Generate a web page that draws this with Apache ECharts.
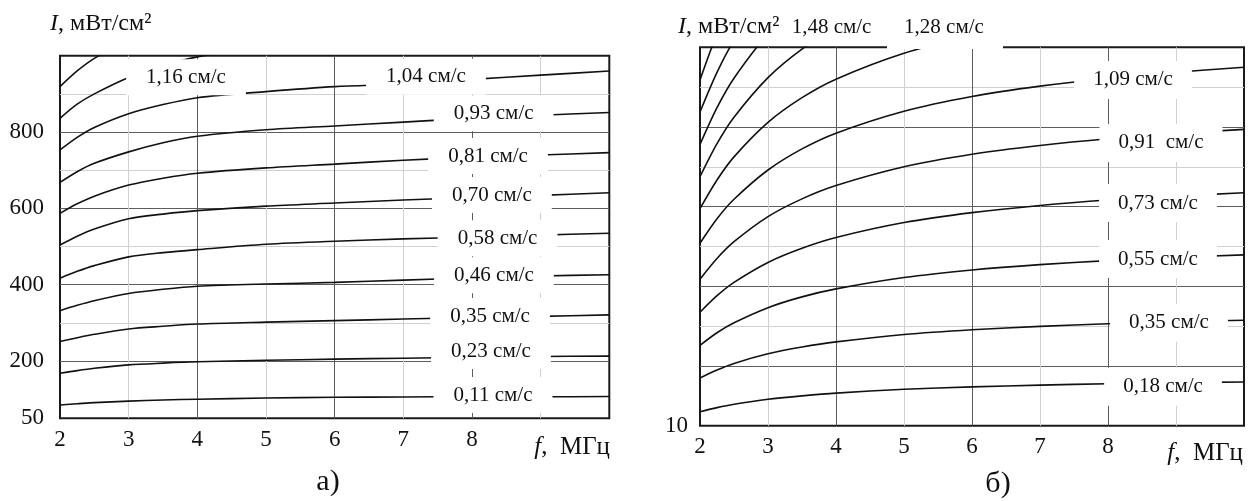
<!DOCTYPE html>
<html><head><meta charset="utf-8">
<script src="https://cdn.jsdelivr.net/npm/echarts@6/dist/echarts.min.js"></script>
<style>html,body{margin:0;padding:0;background:#fff}#c{width:1248px;height:501px}</style>
</head><body><div id="c"></div>
<script>
// ---------- data ----------
const f = [2, 2.25, 2.5, 3, 3.5, 4, 5, 6, 7, 8, 9, 10];

// panel а) : I, мВт/см2
const Ia_011 = [85, 88, 91, 95, 98, 100, 103, 105, 106, 106.5, 106.5, 107];
const Ia_023 = [168, 175, 181, 190, 194.5, 198, 202, 205, 207.5, 210, 212, 213];
const Ia_035 = [251, 261, 270, 284, 291, 297, 302, 306, 310, 314, 317, 321];
const Ia_046 = [332, 346, 358, 377, 388, 396, 402, 406, 412, 418, 423, 426];
const Ia_058 = [417, 435, 450, 473, 484, 492, 506, 514, 520, 525, 530, 535];
const Ia_070 = [504, 527, 546, 573, 585, 594, 606, 614, 622, 628, 634, 641];
const Ia_081 = [587, 612, 632, 661, 679, 692, 706, 716, 726, 734, 740, 746];
const Ia_093 = [668, 696, 718, 748, 772, 789, 806, 816, 826, 836, 844, 851];
const Ia_104 = [753, 786, 812, 848, 872, 890, 906, 919, 926, 938, 949, 960];
const Ia_116 = [836, 873, 900, 943, 974, 997, 1029];
const Ia_127 = [919, 960, 993, 1042];

// panel б)
const Ib_018 = [17, 19.1, 20.8, 23.3, 25, 26.4, 28.3, 29.5, 30.4, 31.1, 31.6, 32];
const Ib_035 = [34, 38, 41.3, 46.1, 49.5, 52.1, 55.8, 58.2, 59.9, 61.2, 62.2, 63];
const Ib_055 = [50.4, 56.7, 61.7, 69.3, 74.7, 78.7, 84.4, 88.2, 90.9, 92.9, 94.5, 95.8];
const Ib_073 = [67, 75.3, 82, 92, 99.1, 104.5, 112, 117, 120.6, 123.3, 125.3, 127];
const Ib_091 = [83.6, 94, 102.4, 115, 123.9, 130.6, 140, 146.3, 150.7, 154.1, 156.7, 158.8];
const Ib_109 = [101.6, 113.9, 123.7, 138.4, 149, 156.9, 167.9, 175.3, 180.5, 184.5, 187.5, 190];
const Ib_128 = [119, 133.4, 145, 162.3, 174.7, 184, 197, 205.7, 211.9];
const Ib_148 = [135, 151.6, 164.9, 184.8, 199.1, 209.8, 224.7];
const Ib_166 = [151.2, 169.7, 184.5, 206.7, 222.6];
const Ib_185 = [167.5, 187.4, 203.4, 227.3];
const Ib_203 = [183.6, 206.8, 225.4];

// curve labels
const labelsA = ['1,16 см/с', '1,04 см/с', '0,93 см/с', '0,81 см/с', '0,70 см/с', '0,58 см/с', '0,46 см/с', '0,35 см/с', '0,23 см/с', '0,11 см/с'];
const labelFA = [3.835, 7.33, 8.316, 8.234, 8.29, 8.372, 8.32, 8.263, 8.277, 8.306];
const labelIA = [943.5, 945, 849, 737, 635, 521.6, 425, 318, 226, 111];

const labelsB = ['1,09 см/с', '0,91  см/с', '0,73 см/с', '0,55 см/с', '0,35 см/с', '0,18 см/с'];
const labelFB = [8.368, 8.779, 8.735, 8.735, 8.897, 8.809];
const labelIB = [183.6, 152, 121.8, 93.7, 61.7, 29.6];

const topLabelsB = ['1,48 см/с', '1,28 см/с'];
const topLabelFB = [3.934, 5.588];
const topLabelIB = [209.7, 209.7];

// ticks / grid
const xTickLabels = [2, 3, 4, 5, 6, 7, 8];
const xMajorGrid = [4, 6, 8];
const xMinorGrid = [3, 5, 7, 9];
const yTickLabelsA = [50, 200, 400, 600, 800];
const yMajorGridA = [200, 400, 600, 800];
const yMinorGridA = [300, 500, 700, 900];
const yTickLabelsB = [10];
const yMajorGridB = [40, 80, 120, 160];
const yMinorGridB = [60, 100, 140, 180];

// ---------- chart ----------
const FONT = '"Liberation Serif", "Times New Roman", serif';
const INK = '#111';
const DARK = '#5c5c5c', LIGHT = '#d0d0d0', NONE = 'rgba(0,0,0,0)';

function gridColors(min, max, step, major, minor) {
  const out = [];
  const n = Math.round((max - min) / step);
  for (let i = 0; i <= n; i++) {
    const v = Math.round((min + i * step) * 1000) / 1000;
    out.push(major.includes(v) ? DARK : (minor.includes(v) ? LIGHT : NONE));
  }
  return out;
}

function xAxisFor(gi) {
  return {
    type: 'value', gridIndex: gi, min: 2, max: 10, interval: 1,
    axisLine: {show: false}, axisTick: {show: false},
    axisLabel: {formatter: v => xTickLabels.includes(v) ? String(v) : '', fontSize: 23, fontFamily: FONT, color: INK, margin: 10},
    splitLine: {show: true, lineStyle: {width: 1, color: gridColors(2, 10, 1, xMajorGrid, xMinorGrid)}}
  };
}

function curve(gi, arr) {
  return {
    type: 'line', xAxisIndex: gi, yAxisIndex: gi,
    data: arr.map((v, i) => [f[i], v]),
    symbol: 'none', showSymbol: false, smooth: 0.3,
    lineStyle: {color: INK, width: 1.6}, clip: true, z: 3, silent: true
  };
}

function labelSeries(gi, texts, xs, ys, withBg, pad) {
  return {
    type: 'scatter', xAxisIndex: gi, yAxisIndex: gi, clip: false, z: 10, silent: true,
    symbolSize: 1, itemStyle: {color: NONE, opacity: 1},
    data: texts.map((t, i) => ({name: t, value: [xs[i], ys[i]]})),
    label: {
      show: true, position: 'inside', formatter: '{b}', opacity: 1,
      fontSize: 21, fontFamily: FONT, color: INK, lineHeight: 20,
      backgroundColor: withBg ? '#fff' : 'transparent', padding: pad
    },
    emphasis: {disabled: true}
  };
}

const seriesA = [Ia_011, Ia_023, Ia_035, Ia_046, Ia_058, Ia_070, Ia_081, Ia_093, Ia_104, Ia_116, Ia_127].map(a => curve(0, a));
const seriesB = [Ib_018, Ib_035, Ib_055, Ib_073, Ib_091, Ib_109, Ib_128, Ib_148, Ib_166, Ib_185, Ib_203].map(a => curve(1, a));

const titleStyle = (x, y) => ({type: 'text', x: x, y: y, style: {text: '{i|I}, мВт/см²', rich: {i: {fontStyle: 'italic', fontSize: 24, fontFamily: FONT, fill: INK}}, fontSize: 24, fontFamily: FONT, fill: INK, align: 'left', verticalAlign: 'middle'}});
const fStyle = (x, y) => ({type: 'text', x: x, y: y, style: {text: '{i|f},  МГц', rich: {i: {fontStyle: 'italic', fontSize: 25, fontFamily: FONT, fill: INK}}, fontSize: 25, fontFamily: FONT, fill: INK, align: 'right', verticalAlign: 'middle'}});

const chart = echarts.init(document.getElementById('c'), null, {renderer: 'canvas'});
chart.setOption({
  animation: false,
  backgroundColor: '#fff',
  grid: [
    {left: 60, top: 55.7, width: 549.3, height: 362.6, show: true, borderColor: '#1a1a1a', borderWidth: 2, backgroundColor: 'transparent', outerBoundsMode: 'none'},
    {left: 700, top: 47.3, width: 544, height: 378.45, show: true, borderColor: '#1a1a1a', borderWidth: 2, backgroundColor: 'transparent', outerBoundsMode: 'none'}
  ],
  xAxis: [xAxisFor(0), xAxisFor(1)],
  yAxis: [
    {type: 'value', gridIndex: 0, min: 50, max: 1000, interval: 50,
     axisLine: {show: false}, axisTick: {show: false},
     axisLabel: {formatter: v => yTickLabelsA.includes(v) ? String(v) : '', fontSize: 23, fontFamily: FONT, color: INK, margin: 16},
     splitLine: {show: true, lineStyle: {width: 1, color: gridColors(50, 1000, 50, yMajorGridA, yMinorGridA)}}},
    {type: 'value', gridIndex: 1, min: 10, max: 200, interval: 10,
     axisLine: {show: false}, axisTick: {show: false},
     axisLabel: {formatter: v => yTickLabelsB.includes(v) ? String(v) : '', fontSize: 23, fontFamily: FONT, color: INK, margin: 12},
     splitLine: {show: true, lineStyle: {width: 1, color: gridColors(10, 200, 10, yMajorGridB, yMinorGridB)}}}
  ],
  series: [
    ...seriesA, ...seriesB,
    labelSeries(0, labelsA, labelFA, labelIA, true, [8, 20]),
    labelSeries(1, labelsB, labelFB, labelIB, true, [9, 19]),
    labelSeries(1, topLabelsB, topLabelFB, topLabelIB, false, 0)
  ],
  graphic: [
    // gap in the top frame of panel б) under the "1,28 см/с" label
    {type: 'rect', z: 50, shape: {x: 887, y: 45, width: 116, height: 4}, style: {fill: '#fff'}},
    titleStyle(50, 24),
    titleStyle(678, 27),
    fStyle(610, 447),
    fStyle(1243, 453),
    {type: 'text', x: 328, y: 482, style: {text: 'а)', fontSize: 30, fontFamily: FONT, fill: INK, align: 'center', verticalAlign: 'middle'}},
    {type: 'text', x: 998, y: 484, style: {text: 'б)', fontSize: 30, fontFamily: FONT, fill: INK, align: 'center', verticalAlign: 'middle'}}
  ]
});
</script>
</body></html>
